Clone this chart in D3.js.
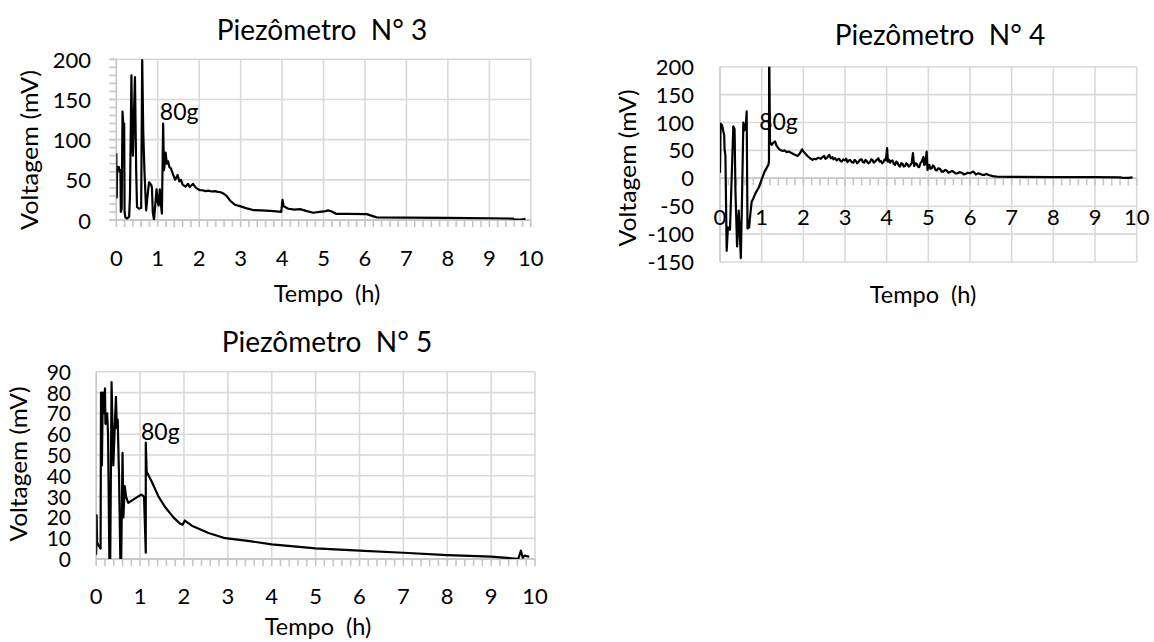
<!DOCTYPE html>
<html><head><meta charset="utf-8">
<script src="https://cdn.jsdelivr.net/npm/d3@7"></script>
<style>
body{margin:0;background:#fff;}
svg text{font-family:Lato,"Open Sans",sans-serif;fill:#000;white-space:pre;}
</style></head><body>
<svg id="c" width="1154" height="642"></svg>
<script>
// ---------------- data ----------------
const xTicks = [0,1,2,3,4,5,6,7,8,9,10];
const yTicks3 = [0,50,100,150,200];
const yTicks4 = [-150,-100,-50,0,50,100,150,200];
const yTicks5 = [0,10,20,30,40,50,60,70,80,90];
const titles = ["Piezômetro  N° 3","Piezômetro  N° 4","Piezômetro  N° 5"];
const xTitle = "Tempo  (h)";
const yTitle = "Voltagem (mV)";
const annotText = "80g";
const annot3 = [1.05,125];
const annot4 = [0.94,87];
const annot5 = [1.02,57];

// [tempo (h), voltagem (mV)]
const piezo3 = [
[0.00,83],[0.01,28],[0.02,66],[0.04,63],[0.06,66],[0.08,60],[0.10,62],[0.11,10],[0.13,14],[0.15,135],[0.17,118],[0.19,120],[0.20,10],[0.22,3],[0.26,2],[0.31,4],[0.33,30],[0.365,180],[0.38,110],[0.40,80],[0.42,120],[0.45,178],[0.48,60],[0.50,16],[0.55,14],[0.60,15],[0.625,200],[0.65,110],[0.68,60],[0.72,12],[0.75,28],[0.79,47],[0.84,44],[0.86,40],[0.88,10],[0.91,0],[0.95,25],[0.97,38],[1.00,22],[1.02,18],[1.05,38],[1.07,22],[1.10,8],[1.13,120],[1.15,62],[1.17,70],[1.19,84],[1.22,70],[1.25,73],[1.28,66],[1.32,64],[1.36,58],[1.42,50],[1.48,56],[1.52,48],[1.56,50],[1.60,44],[1.67,41.5],[1.73,45],[1.77,41],[1.81,43],[1.85,45],[1.93,39.7],[2.01,37.3],[2.08,37],[2.15,36],[2.22,36.5],[2.30,35.5],[2.38,36],[2.45,35],[2.52,34.5],[2.58,33],[2.66,30],[2.75,24],[2.86,19],[3.00,17],[3.15,14.5],[3.30,12.4],[3.50,12],[3.80,11],[3.98,10],[4.01,25],[4.04,17],[4.15,14],[4.30,13],[4.43,13.5],[4.60,11],[4.75,9],[4.91,10],[5.05,11],[5.11,12],[5.20,10.5],[5.31,7.5],[5.60,7.5],[6.04,7.3],[6.28,3.3],[7.00,3],[8.00,2.6],[9.00,2.2],[9.57,1.8],[9.60,0.5],[9.77,0.6],[9.87,1.5]
];
const piezo4 = [
[0.00,10],[0.015,98],[0.05,95],[0.08,84],[0.10,78],[0.11,52],[0.13,40],[0.16,-130],[0.19,-88],[0.24,-92],[0.32,93],[0.35,88],[0.37,-20],[0.41,-122],[0.45,-58],[0.50,-143],[0.53,-30],[0.56,100],[0.59,86],[0.62,95],[0.64,120],[0.66,-90],[0.70,-88],[0.72,-70],[0.76,-42],[0.80,-36],[0.85,-27],[0.94,-15],[1.00,-2],[1.07,12],[1.16,24],[1.175,30],[1.18,240],[1.20,65],[1.24,60],[1.28,64],[1.32,66],[1.36,58],[1.40,54],[1.44,51],[1.50,49],[1.55,50],[1.60,47],[1.65,48],[1.70,46],[1.75,44],[1.80,42],[1.86,40],[1.92,45],[1.97,52],[2.00,48],[2.05,44],[2.10,40],[2.16,36],[2.22,33],[2.26,35],[2.30,34],[2.36,37],[2.42,35],[2.46,38],[2.50,40],[2.53,35],[2.56,36],[2.60,40],[2.62,42],[2.66,36],[2.70,38],[2.72,34],[2.76,36],[2.80,32],[2.83,34],[2.86,35],[2.89,31],[2.92,30],[2.96,34],[3.00,32],[3.03,35],[3.06,29],[3.09,32],[3.12,33],[3.16,29],[3.20,28],[3.23,33],[3.26,31],[3.29,27],[3.32,29],[3.36,33],[3.40,34],[3.43,29],[3.46,28],[3.49,33],[3.52,31],[3.56,27],[3.60,29],[3.63,34],[3.66,33],[3.69,28],[3.72,30],[3.76,33],[3.80,36],[3.83,30],[3.86,31],[3.89,27],[3.92,29],[3.95,34],[3.98,32],[4.01,54],[4.03,30],[4.06,33],[4.08,28],[4.11,31],[4.14,32],[4.17,26],[4.20,24],[4.23,30],[4.26,28],[4.29,23],[4.32,21],[4.35,27],[4.38,26],[4.41,21],[4.44,22],[4.47,27],[4.50,25],[4.53,21],[4.56,23],[4.60,27],[4.63,45],[4.66,22],[4.69,27],[4.72,26],[4.75,21],[4.78,20],[4.81,27],[4.84,30],[4.88,38],[4.90,24],[4.92,25],[4.94,36],[4.96,48],[4.98,15],[5.00,22],[5.02,24],[5.05,17],[5.08,18],[5.11,23],[5.14,21],[5.17,15],[5.20,14],[5.24,18],[5.28,17],[5.32,12],[5.36,12],[5.40,15],[5.44,14],[5.48,10],[5.52,11],[5.56,13],[5.60,12],[5.65,9],[5.70,9],[5.75,11],[5.80,10],[5.85,7],[5.90,8],[5.95,10],[6.00,9],[6.08,12],[6.14,7],[6.20,9],[6.24,8],[6.30,6],[6.34,6],[6.40,8],[6.44,6],[6.55,4],[6.64,3],[7.00,2.6],[8.00,2.2],[9.00,2],[9.60,1.8],[9.70,0.6],[9.80,0.8],[9.90,1.8]
];
const piezo5 = [
[0.00,2],[0.01,21],[0.02,8],[0.04,7],[0.07,6],[0.10,5],[0.11,80],[0.13,45],[0.15,80],[0.17,70],[0.20,82],[0.21,65],[0.25,70],[0.27,60],[0.30,0],[0.32,0],[0.35,85],[0.39,45],[0.45,78],[0.47,63],[0.49,67],[0.52,40],[0.55,0],[0.57,0],[0.60,51],[0.62,20],[0.65,35],[0.68,30],[0.73,27],[0.88,29],[1.03,31],[1.09,30],[1.13,3],[1.13,56],[1.15,42],[1.27,37],[1.42,30],[1.57,25],[1.76,20],[1.91,17],[1.97,16.5],[2.02,18.5],[2.18,16],[2.56,12.5],[2.94,10],[3.50,8.6],[4.00,7],[5.00,5.1],[6.00,4],[7.00,3],[8.00,1.9],[9.00,1.1],[9.62,0.1],[9.68,4],[9.72,0.6],[9.76,1.6],[9.87,1.1]
];

// ---------------- drawing ----------------
const svg = d3.select("#c");
const GRID = "#d9d9d9", AXIS = "#c6c6c6";

function drawChart(o){
  const g = svg.append("g");
  const x = d3.scaleLinear().domain([0,10]).range([o.x0,o.x1]);
  const y = d3.scaleLinear().domain(o.yDomain).range([o.yB,o.yT]);
  const id = "clip"+o.key;
  svg.append("clipPath").attr("id",id).append("rect")
    .attr("x",o.x0).attr("y",o.yT).attr("width",o.x1-o.x0).attr("height",o.yB-o.yT);
  g.selectAll(".hg").data(o.yTicks).join("line")
    .attr("x1",o.yMinor? o.x0-7 : o.x0).attr("x2",o.x1)
    .attr("y1",d=>y(d)).attr("y2",d=>y(d))
    .attr("stroke",d=>d===0?AXIS:GRID).attr("stroke-width",1.6);
  g.selectAll(".vg").data(xTicks).join("line")
    .attr("x1",d=>x(d)).attr("x2",d=>x(d))
    .attr("y1",o.yT).attr("y2",o.yB)
    .attr("stroke",d=>d===0?AXIS:GRID).attr("stroke-width",1.6);
  const xAxisY = y(o.xAxisAt);
  const minorX = d3.range(0,10.001,0.2);
  g.selectAll(".xt").data(minorX).join("line")
    .attr("x1",d=>x(d)).attr("x2",d=>x(d))
    .attr("y1",xAxisY).attr("y2",xAxisY+7)
    .attr("stroke",AXIS).attr("stroke-width",1.6);
  g.append("line").attr("x1",o.x0).attr("x2",o.x1).attr("y1",xAxisY).attr("y2",xAxisY)
    .attr("stroke",AXIS).attr("stroke-width",1.6);
  if(o.yMinor){
    const minorY = d3.range(o.yDomain[0],o.yDomain[1]+0.001,o.yMinor);
    g.selectAll(".yt").data(minorY).join("line")
      .attr("x1",o.x0-7).attr("x2",o.x0)
      .attr("y1",d=>y(d)).attr("y2",d=>y(d))
      .attr("stroke",AXIS).attr("stroke-width",1.6);
  }
  const line = d3.line().x(d=>x(d[0])).y(d=>y(d[1]));
  g.append("path").datum(o.data).attr("d",line)
    .attr("fill","none").attr("stroke","#000").attr("stroke-width",2.2)
    .attr("stroke-linejoin","round").attr("clip-path",`url(#${id})`);
  g.selectAll(".yl").data(o.yTicks).join("text")
    .attr("x",o.yLabR).attr("y",d=>y(d)+o.yLabDy).attr("text-anchor","end")
    .attr("font-size",o.tickSize).text(d=>d);
  g.selectAll(".xl").data(xTicks).join("text")
    .attr("x",d=>x(d)).attr("y",o.xLabY).attr("text-anchor","middle")
    .attr("font-size",22).text(d=>d);
  g.append("text").attr("x",o.titleX).attr("y",o.titleY).attr("text-anchor","middle")
    .attr("font-size",28).text(o.title);
  g.append("text").attr("x",o.xtX).attr("y",o.xtY).attr("text-anchor","middle")
    .attr("font-size",23.5).text(xTitle);
  g.append("text").attr("transform",`translate(${o.ytX},${o.ytY}) rotate(-90)`)
    .attr("text-anchor","middle").attr("dominant-baseline","central")
    .attr("font-size",23).attr("textLength",o.ytLen).attr("lengthAdjust","spacingAndGlyphs")
    .text(yTitle);
  g.append("text").attr("x",x(o.annot[0])).attr("y",y(o.annot[1]))
    .attr("font-size",23).text(annotText);
}

drawChart({key:3,x0:116.3,x1:530.8,yT:59.3,yB:220,yDomain:[0,200],yTicks:yTicks3,yMinor:10,xAxisAt:0,
  data:piezo3,yLabR:91,yLabDy:8.5,xLabY:266,tickSize:22,title:titles[0],titleX:322,titleY:39.5,
  xtX:327,xtY:301.5,ytX:29,ytY:150,ytLen:160,annot:annot3});
drawChart({key:4,x0:720,x1:1136.7,yT:66.7,yB:262,yDomain:[-150,200],yTicks:yTicks4,yMinor:0,xAxisAt:0,
  data:piezo4,yLabR:694,yLabDy:8,xLabY:225,tickSize:22,title:titles[1],titleX:940,titleY:44.5,
  xtX:923,xtY:302.5,ytX:627,ytY:168,ytLen:157,annot:annot4});
drawChart({key:5,x0:96.2,x1:535,yT:371.8,yB:559,yDomain:[0,90],yTicks:yTicks5,yMinor:0,xAxisAt:0,
  data:piezo5,yLabR:71,yLabDy:8,xLabY:604,tickSize:21,title:titles[2],titleX:327,titleY:352,
  xtX:318,xtY:635,ytX:18,ytY:464,ytLen:155,annot:annot5});
</script>
</body></html>
